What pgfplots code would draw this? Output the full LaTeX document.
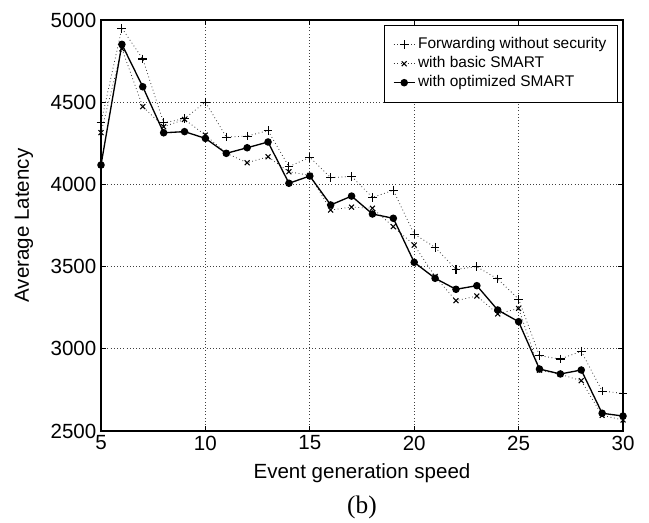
\documentclass[border=0pt]{standalone}
\usepackage{fontspec}
\setmainfont{Liberation Sans}
\newfontfamily\capfont{Liberation Serif}
\usepackage{pgfplots}
\pgfplotsset{compat=1.18}

% latency per event generation speed
\pgfplotstableread{
x    nosec   basic   opt
5    4375    4315    4118
6    4950    4825    4852
7    4763    4473    4594
8    4375    4351    4314
9    4400    4395    4321
10   4501    4300    4280
11   4288    4190    4189
12   4294    4132    4223
13   4327    4168    4258
14   4108    4077    4007
15   4165    4055    4051
16   4041    3844    3875
17   4049    3862    3929
18   3921    3855    3820
19   3964    3743    3794
20   3698    3631    3526
21   3617    3440    3429
22   3484    3293    3362
23   3499    3321    3384
24   3425    3212    3236
25   3302    3246    3165
26   2958    2870    2877
27   2938    2845    2847
28   2985    2806    2871
29   2743    2595    2608
30   2729    2567    2591
}\latency

\newcommand{\axfont}{\fontsize{15.4}{18}\selectfont}
\newcommand{\legfont}{\fontsize{11.6}{13.5}\selectfont}

\begin{document}
\begin{tikzpicture}
\begin{axis}[
    scale only axis,
    width=391.5pt, height=308.25pt,
    xmin=5, xmax=30, ymin=2500, ymax=5000,
    xtick={5,10,...,30},
    ytick={2500,3000,...,5000},
    tick align=inside,
    major tick length=4pt,
    tick style={black, line width=0.5pt},
    axis line style={black, line width=0.8pt},
    grid=major,
    grid style={dotted, black!75, line width=0.5pt},
    tick label style={font=\axfont},
    label style={font=\axfont},
    /pgf/number format/assume math mode=true,
    /pgf/number format/set thousands separator={},
    xlabel={Event generation speed},
    ylabel={Average Latency},
    xlabel style={at={(axis description cs:0.5,-0.102)}, anchor=center},
    ylabel style={at={(axis description cs:-0.1475,0.5)}, anchor=center},
    legend style={
        at={(rel axis cs:0.9904,0.9878)}, anchor=north east,
        draw=black, line width=0.5pt, fill=white,
        font=\legfont,
        inner xsep=6.5pt, inner ysep=7.5pt,
        row sep=0pt,
        nodes={inner xsep=2pt, inner ysep=1.1pt, text height=9pt, text depth=3pt},
    },
    legend cell align=left,
    legend image code/.code={
        \draw[mark repeat=2, mark phase=2, #1]
            plot coordinates {(0pt,0pt) (7.9pt,0pt) (15.8pt,0pt)};
    },
]
\addplot[black!80, dotted, line width=0.6pt, mark=+, mark size=3.3pt,
    mark options={solid, black, line width=0.8pt}]
    table[x=x, y=nosec] {\latency};
\addlegendentry{Forwarding without security}
\addplot[black!80, dotted, line width=0.6pt, mark=x, mark size=2.6pt,
    mark options={solid, black, line width=0.8pt}]
    table[x=x, y=basic] {\latency};
\addlegendentry{with basic SMART}
\addplot[black, solid, line width=1pt, mark=*, mark size=2.3pt,
    mark options={solid, fill=black}]
    table[x=x, y=opt] {\latency};
\addlegendentry{with optimized SMART}

\coordinate (capb) at (rel axis cs:0.5,-0.185);
\coordinate (bbsw) at (rel axis cs:-0.1935,-0.2214);
\coordinate (bbne) at (rel axis cs:1.0498,1.0487);
\end{axis}
\node[font=\capfont\fontsize{19}{22}\selectfont, anchor=center] at (capb) {(b)};
\pgfresetboundingbox
\path[use as bounding box] (bbsw) rectangle (bbne);
\end{tikzpicture}
\end{document}
